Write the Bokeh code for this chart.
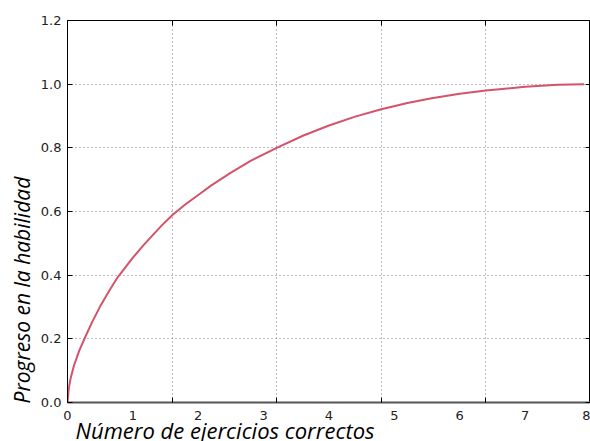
from bokeh.plotting import figure
from bokeh.models import FixedTicker, LinearAxis, Range1d, Title, PrintfTickFormatter
from bokeh.embed import file_html
from bokeh.resources import INLINE

# curve values
x_vals = [0.0, 0.02, 0.05, 0.1, 0.18, 0.27, 0.38, 0.5, 0.65, 0.77, 1.0, 1.15, 1.3, 1.45, 1.61,
          1.8, 2.0, 2.2, 2.5, 2.8, 3.2, 3.6, 4.0, 4.4, 4.8, 5.2, 5.57, 6.0, 6.4, 7.0, 7.5, 7.9]
y_vals = [0.0, 0.045, 0.078, 0.117, 0.163, 0.205, 0.254, 0.302, 0.355, 0.394, 0.455, 0.491, 0.525,
          0.558, 0.59, 0.622, 0.652, 0.682, 0.722, 0.759, 0.8, 0.838, 0.87, 0.898, 0.921, 0.941,
          0.956, 0.97, 0.98, 0.992, 0.998, 1.0]

x_tick_labels = [0, 1, 2, 3, 4, 5, 6, 7, 8]
y_ticks = [0.0, 0.2, 0.4, 0.6, 0.8, 1.0, 1.2]
grid_x = [1.6, 3.2, 4.8, 6.4]

x_label = "Número de ejercicios correctos"
y_label = "Progreso en la habilidad"

p = figure(width=590, height=441, output_backend="svg", toolbar_location=None,
           x_range=Range1d(0, 8), y_range=Range1d(0, 1.2),
           min_border_left=67, min_border_right=0, min_border_top=20, min_border_bottom=39)
p.background_fill_color = "white"
p.border_fill_color = "white"
p.outline_line_color = "black"
p.outline_line_width = 1

p.line(x_vals, y_vals, line_color="#d4526a", line_width=2)

# bottom axis
xa = p.xaxis[0]
xa.ticker = FixedTicker(ticks=x_tick_labels, minor_ticks=grid_x)
xa.major_tick_line_color = None
xa.minor_tick_in = 5
xa.minor_tick_out = 0
xa.minor_tick_line_color = "black"
xa.axis_line_color = "#555555"
xa.axis_line_width = 2
xa.major_label_standoff = 2
xa.major_label_text_font = "DejaVu Sans"
xa.major_label_text_font_size = "13px"
xa.major_label_text_color = "#222222"

# left axis
ya = p.yaxis[0]
ya.ticker = FixedTicker(ticks=y_ticks)
ya.formatter = PrintfTickFormatter(format="%.1f")
ya.major_tick_in = 5
ya.major_tick_out = 0
ya.minor_tick_line_color = None
ya.axis_line_color = "black"
ya.major_label_standoff = 6
ya.major_label_text_font = "DejaVu Sans"
ya.major_label_text_font_size = "13px"
ya.major_label_text_color = "#222222"

# grids
p.xgrid.ticker = FixedTicker(ticks=grid_x)
p.xgrid.grid_line_color = "#777777"
p.xgrid.grid_line_dash = "1 3"
p.ygrid.ticker = FixedTicker(ticks=y_ticks)
p.ygrid.grid_line_color = "#777777"
p.ygrid.grid_line_dash = "1 3"

# top and right tick marks (no labels)
top = LinearAxis(ticker=FixedTicker(ticks=grid_x), major_tick_in=5, major_tick_out=0,
                 major_label_overrides={t: "" for t in grid_x}, major_label_standoff=0,
                 axis_line_color=None, minor_tick_line_color=None)
p.add_layout(top, "above")
right = LinearAxis(ticker=FixedTicker(ticks=y_ticks), major_tick_in=5, major_tick_out=0,
                   major_label_overrides={t: "" for t in y_ticks}, major_label_standoff=0,
                   axis_line_color=None, minor_tick_line_color=None)
p.add_layout(right, "right")

p.add_layout(Title(text=x_label, align="left", offset=8, standoff=-20,
                   text_font="Open Sans", text_font_style="italic", text_font_size="22px",
                   text_color="black"), "below")
p.add_layout(Title(text=y_label, align="left", offset=-1, standoff=4,
                   text_font="Open Sans", text_font_style="italic", text_font_size="21px",
                   text_color="black"), "left")

open("out.html", "w").write(file_html(p, INLINE))
